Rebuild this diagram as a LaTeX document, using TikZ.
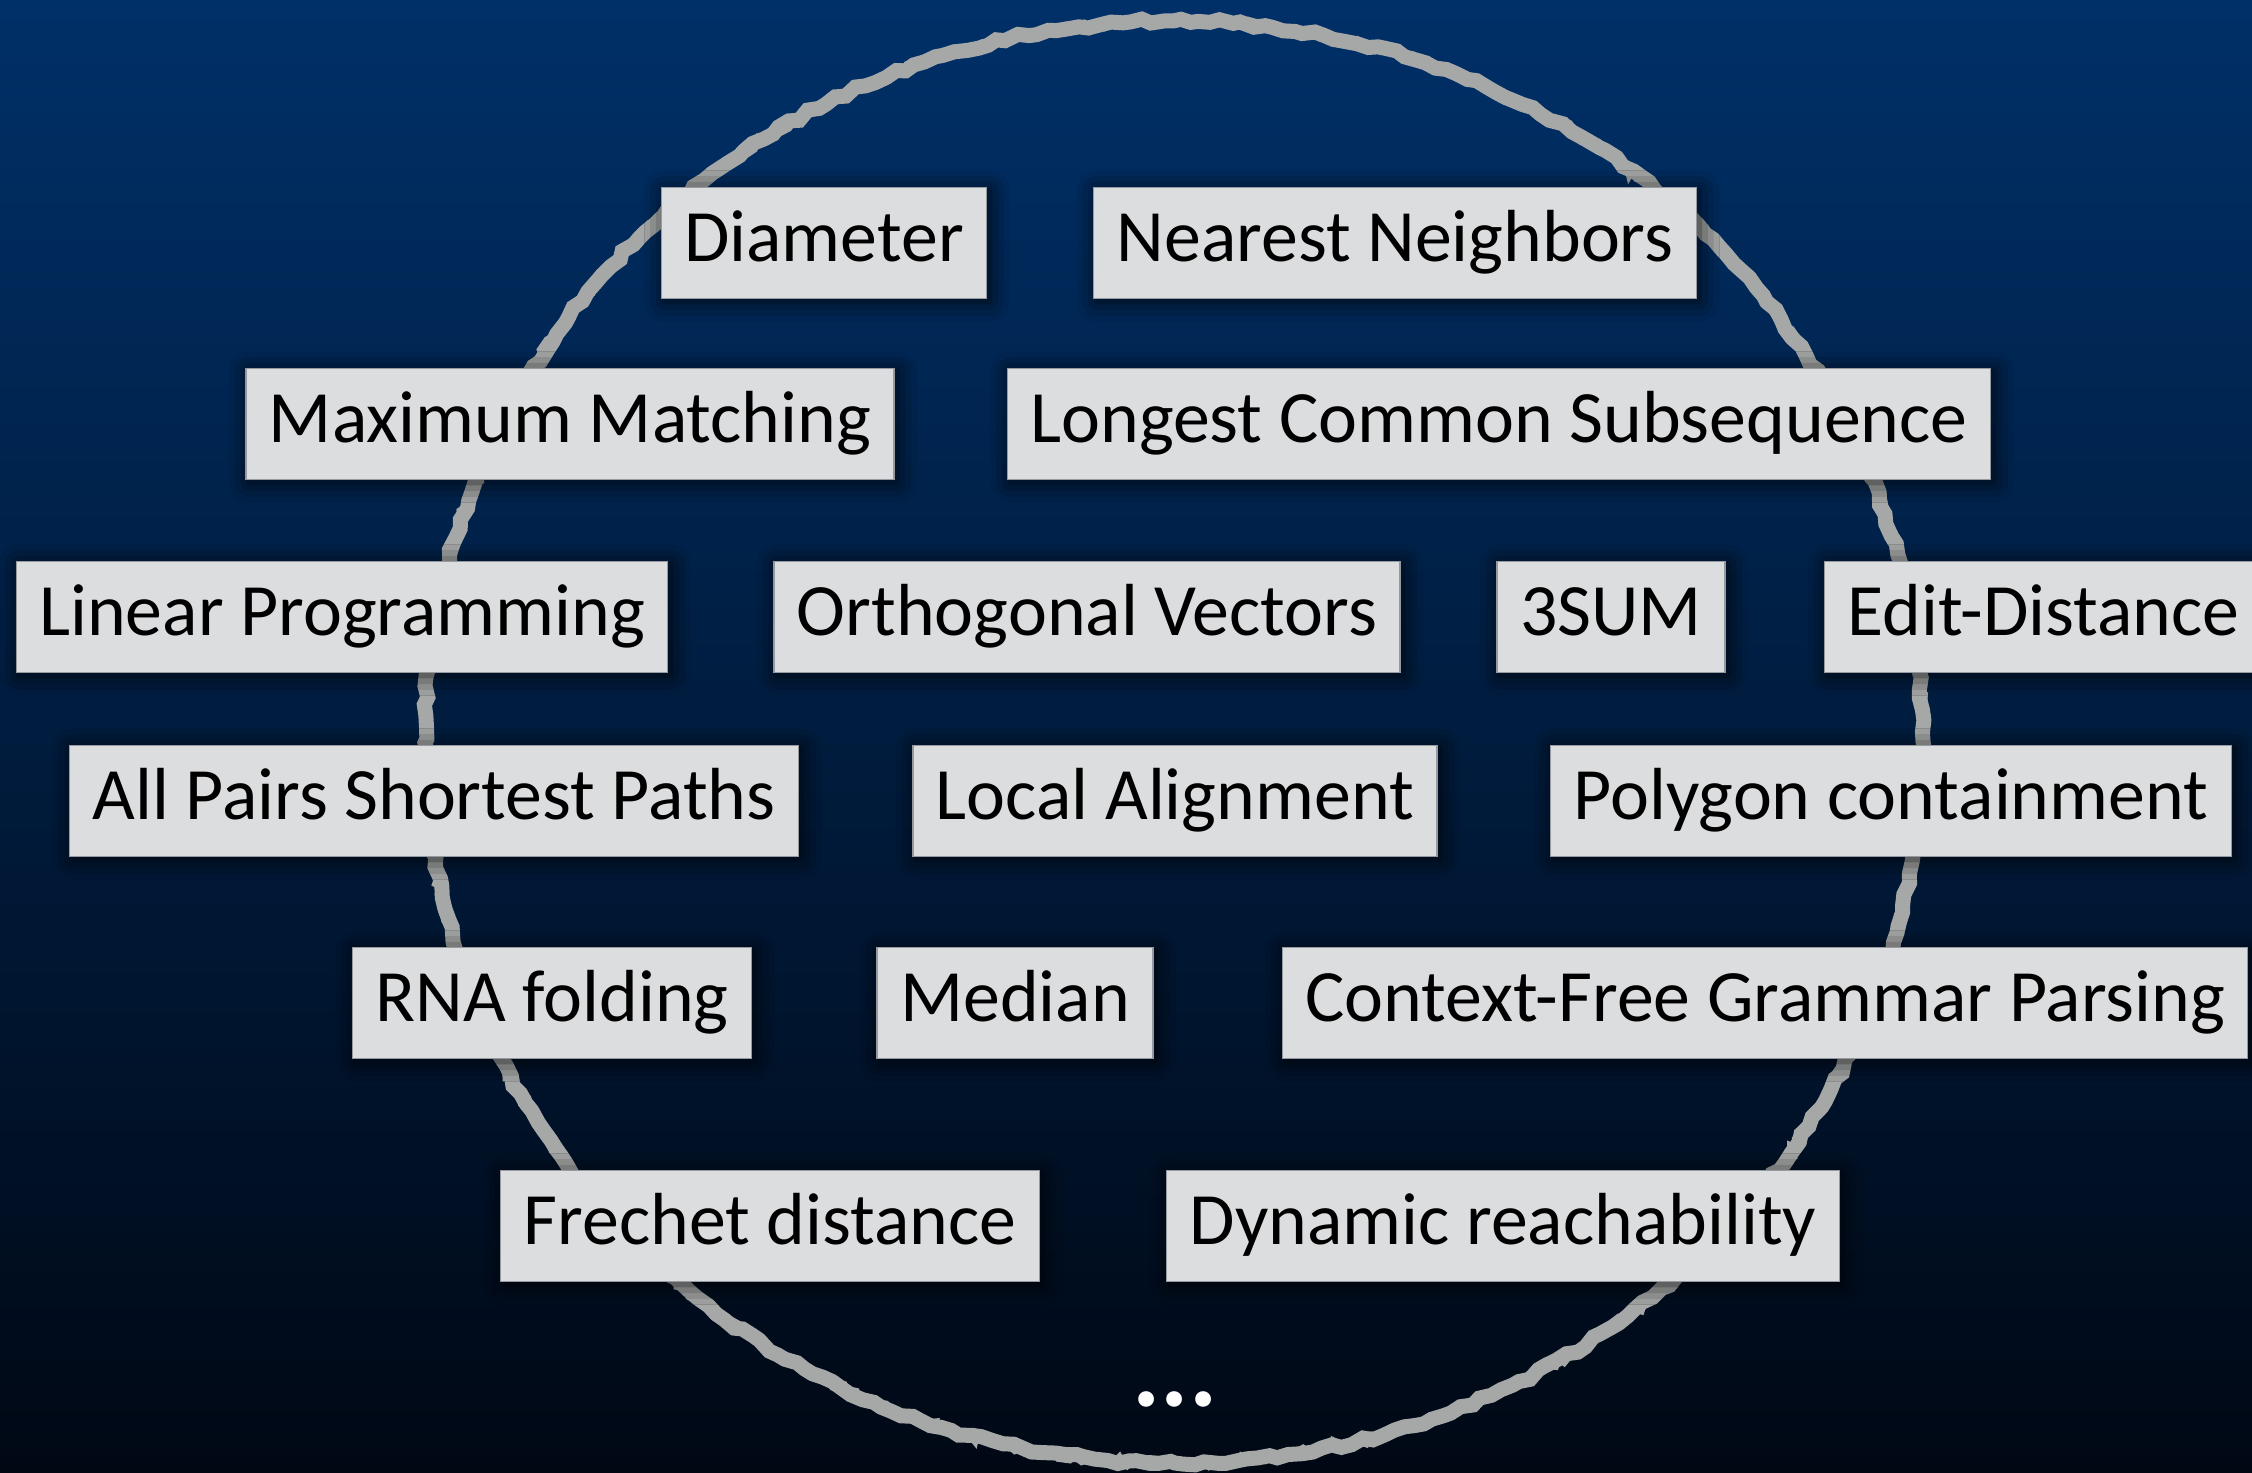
\documentclass[tikz,border=0pt]{standalone}
\usepackage{fontspec}
\setmainfont{Carlito}
\usepackage{xcolor}
\usepackage{tikz}
\usetikzlibrary{shadows.blur,decorations.pathmorphing}
\definecolor{slidetop}{RGB}{0,48,104}
\definecolor{slidebot}{RGB}{0,8,20}
\definecolor{chalk}{RGB}{166,168,168}
\definecolor{boxfill}{RGB}{220,221,223}
\definecolor{boxline}{RGB}{150,154,160}
\tikzset{prob/.style={rectangle,draw=boxline,line width=0.4pt,fill=boxfill,inner xsep=0.23cm,inner ysep=0.21cm,text height=0.53cm,text depth=0.16cm,font=\fontsize{21pt}{25pt}\selectfont,blur shadow={shadow xshift=0.03cm,shadow yshift=-0.03cm,shadow blur radius=0.2cm,shadow opacity=85}}}
\tikzset{ring/.style={chalk,line width=0.15cm,decorate,decoration={random steps,segment length=3pt,amplitude=0.7pt}}}

\begin{document}
\begin{tikzpicture}
    \pgfmathsetseed{7}
    \useasboundingbox (0,0) rectangle (22.52,14.72);
    \shade[top color=slidetop,bottom color=slidebot] (0,0) rectangle (22.52,14.72);
    \draw[ring] (11.74,7.30) ellipse [x radius=7.49cm,y radius=7.21cm];
    \draw[ring,line width=0.07cm,decoration={random steps,segment length=2pt,amplitude=1.2pt}] (11.74,7.30) ellipse [x radius=7.49cm,y radius=7.21cm];

    \node[prob] (diam) at (8.24,12.29) {Diameter};
    \node[prob] (nn) at (13.95,12.29) {Nearest Neighbors};
    \node[prob] (mm) at (5.70,10.48) {Maximum Matching};
    \node[prob] (lcs) at (14.99,10.48) {Longest Common Subsequence};
    \node[prob] (lp) at (3.42,8.55) {Linear Programming};
    \node[prob] (ov) at (10.87,8.55) {Orthogonal Vectors};
    \node[prob] (sum) at (16.11,8.55) {3SUM};
    \node[prob,anchor=west] (ed) at (18.24,8.55) {Edit-Distance};
    \node[prob] (apsp) at (4.34,6.71) {All Pairs Shortest Paths};
    \node[prob] (la) at (11.75,6.71) {Local Alignment};
    \node[prob] (poly) at (18.91,6.71) {Polygon containment};
    \node[prob] (rna) at (5.52,4.69) {RNA folding};
    \node[prob] (med) at (10.15,4.69) {Median};
    \node[prob] (cfg) at (17.65,4.69) {Context-Free Grammar Parsing};
    \node[prob] (fd) at (7.70,2.46) {Frechet distance};
    \node[prob] (dr) at (15.03,2.46) {Dynamic reachability};

    \node[text=white,font=\fontsize{30pt}{34pt}\selectfont\bfseries,anchor=base] (more) at (11.75,0.66) {...};
\end{tikzpicture}
\end{document}
